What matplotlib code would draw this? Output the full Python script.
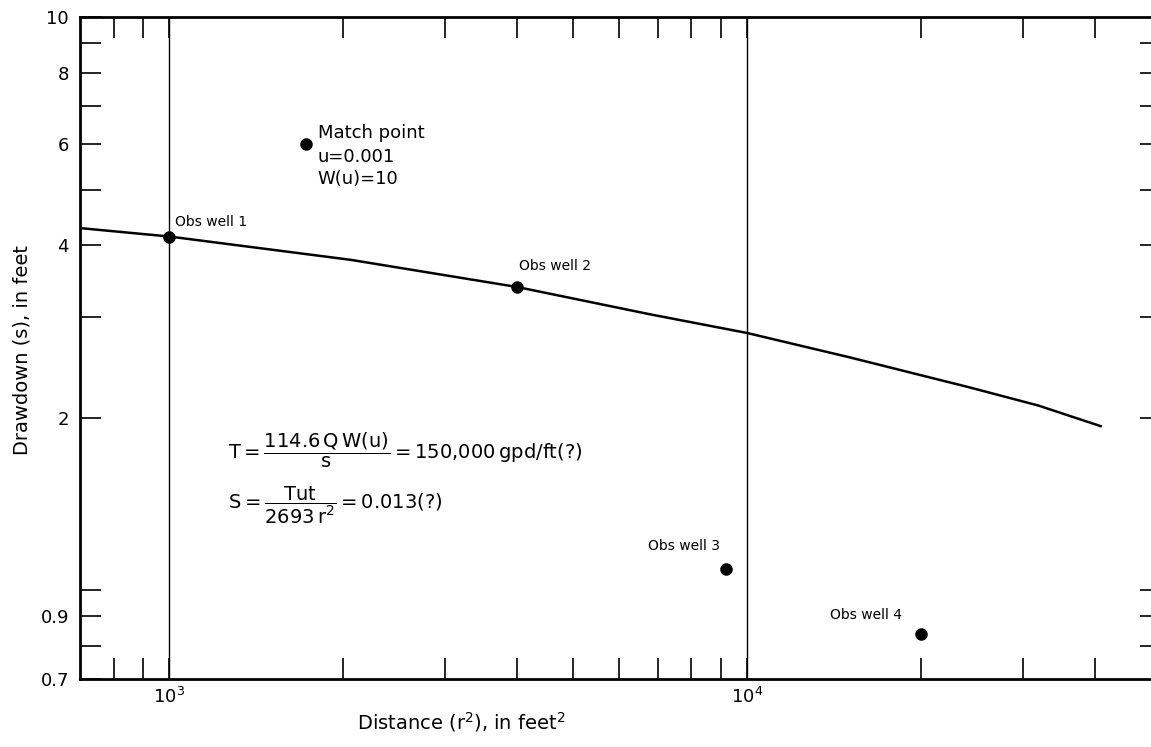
import matplotlib
matplotlib.use('Agg')
import matplotlib.pyplot as plt

plt.rcParams['font.family'] = ['DejaVu Sans']
plt.rcParams['mathtext.fontset'] = 'custom'
plt.rcParams['mathtext.rm'] = 'DejaVu Sans'
plt.rcParams['mathtext.it'] = 'DejaVu Sans'

# type curve traced on the log paper (r^2 in ft^2, drawdown in ft)
curve_r2 = [705, 1000, 2060, 4000, 6780, 10000, 15000, 24200, 31900, 41100]
curve_s = [4.28, 4.14, 3.77, 3.38, 3.03, 2.81, 2.55, 2.26, 2.10, 1.93]

# observation wells
well_names = ['Obs well 1', 'Obs well 2', 'Obs well 3', 'Obs well 4']
well_r2 = [1000, 4000, 9200, 20000]
well_s = [4.14, 3.38, 1.09, 0.84]

# match point
match_r2 = 1720
match_s = 6.0

# axis ticks
y_ticks = [0.7, 0.8, 0.9, 1, 2, 3, 4, 5, 6, 7, 8, 9, 10]
y_labels = ['0.7', '', '0.9', '', '2', '', '4', '', '6', '', '8', '', '10']
x_major = [1e3, 1e4]
x_minor = [800, 900, 2000, 3000, 4000, 5000, 6000, 7000, 8000, 9000,
           20000, 30000, 40000]

W, H = 1151, 747
fig = plt.figure(figsize=(W / 100, H / 100), dpi=100)
ax = fig.add_axes([80 / W, 1 - 679 / H, 1 - 80 / W, (679 - 17) / H])
ax.set_xscale('log')
ax.set_yscale('log')
ax.set_xlim(700, 50000)
ax.set_ylim(0.7, 10)

# decade lines
for xv in x_major:
    ax.axvline(xv, color='black', lw=1.0)

ax.plot(curve_r2, curve_s, color='black', lw=1.8, solid_capstyle='butt')
ax.plot(well_r2, well_s, 'o', color='black', ms=8, ls='none')
ax.plot([match_r2], [match_s], 'o', color='black', ms=8)

# well labels, offset in pixels from the dots
offsets = [(6, 8), (2, 14), (-78, 16), (-91, 12)]
for name, xv, yv, (dx, dy) in zip(well_names, well_r2, well_s, offsets):
    ax.annotate(name, (xv, yv), xytext=(dx, dy), textcoords='offset pixels',
                fontsize=10, ha='left', va='bottom')

ax.annotate('Match point', (match_r2, match_s), xytext=(12, 2),
            textcoords='offset pixels', fontsize=13, ha='left', va='bottom')
ax.annotate('u=0.001\nW(u)=10', (match_r2, match_s), xytext=(12, -4),
            textcoords='offset pixels', fontsize=13, ha='left', va='top',
            linespacing=1.3)

# formulas
fig.text(228 / W, 1 - 450 / H,
         r'$\mathrm{T = \dfrac{114.6\,Q\,W(u)}{s} = 150{,}000\,gpd/ft(?)}$',
         fontsize=14, ha='left', va='center')
fig.text(228 / W, 1 - 505 / H,
         r'$\mathrm{S = \dfrac{Tut}{2693\,r^2} = 0.013(?)}$',
         fontsize=14, ha='left', va='center')

# axes styling
ax.spines['right'].set_visible(False)
for side in ['left', 'top', 'bottom']:
    ax.spines[side].set_linewidth(2.0)

ax.set_yticks(y_ticks)
ax.set_yticklabels(y_labels)
ax.yaxis.set_minor_locator(matplotlib.ticker.NullLocator())
ax.tick_params(axis='y', direction='in', length=15, width=1.2, labelsize=13,
               pad=8, left=True, right=False)

ax.set_xticks(x_major)
ax.set_xticklabels([r'$\mathregular{10^3}$', r'$\mathregular{10^4}$'])
ax.set_xticks(x_minor, minor=True)
ax.xaxis.set_minor_formatter(matplotlib.ticker.NullFormatter())
ax.tick_params(axis='x', which='both', direction='in', length=15, width=1.2,
               top=True, bottom=True, labelsize=13, pad=6)

# short ticks on the right edge
sec = ax.secondary_yaxis('right')
sec.set_yticks(y_ticks[1:-1])
sec.set_yticklabels([])
sec.yaxis.set_minor_locator(matplotlib.ticker.NullLocator())
sec.tick_params(direction='in', length=8, width=1.2)
sec.spines['right'].set_visible(False)

fig.text(22 / W, 1 - 350 / H, 'Drawdown (s), in feet', rotation=90,
         fontsize=14, ha='center', va='center')
fig.text(461 / W, 1 - 722 / H,
         r'Distance (r$^{\mathregular{2}}$), in feet$^{\mathregular{2}}$',
         fontsize=14, ha='center', va='center')

fig.savefig('out.png', dpi=100)
